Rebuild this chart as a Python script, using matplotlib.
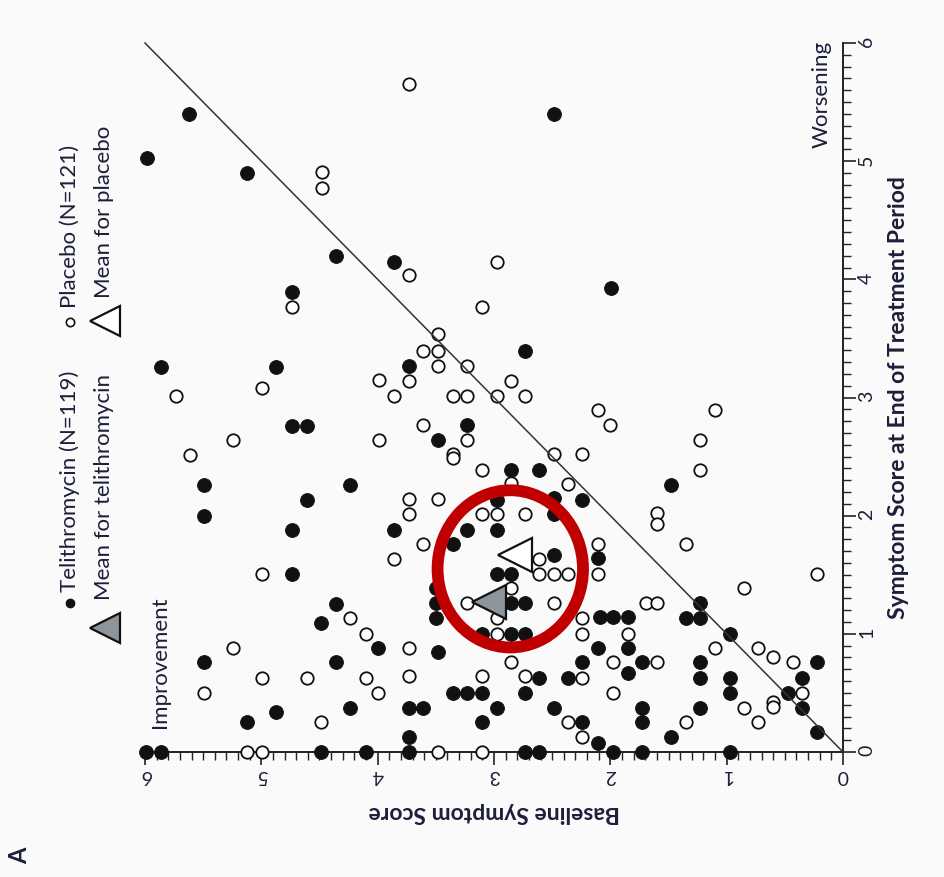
import matplotlib
matplotlib.use("Agg")
import matplotlib.pyplot as plt
from matplotlib.patches import Ellipse
from matplotlib.lines import Line2D
from matplotlib.ticker import MultipleLocator

plt.rcParams['font.family'] = ['Lato', 'DejaVu Sans']

# telithromycin arm: baseline score, score at end of treatment
teli_base = [5.62, 5.98, 5.12, 4.36, 2.48, 3.86, 4.74, 5.86, 4.87, 4.74,
             4.61, 5.49, 4.24, 4.61, 5.49, 2.73, 3.73, 3.23, 3.48, 2.85,
             2.61, 2.48, 2.24, 2.97, 1.99, 1.48, 4.74, 4.74, 4.36, 4.49,
             4.00, 5.49, 4.36, 4.24, 4.87, 5.12, 5.99, 5.86, 4.49, 4.10,
             2.48, 3.86, 3.23, 2.97, 3.35, 2.11, 2.48, 2.97, 2.85, 3.50,
             3.50, 3.50, 2.85, 2.73, 3.10, 2.85, 2.73, 2.09, 1.98, 1.85,
             3.48, 2.11, 2.24, 2.61, 2.36, 3.35, 3.23, 3.10, 2.73, 3.73,
             3.61, 2.97, 2.48, 3.10, 2.24, 2.11, 3.73, 3.73, 2.73, 2.61,
             1.23, 1.35, 1.23, 0.97, 1.85, 0.22, 1.73, 1.85, 1.23, 1.23,
             0.97, 0.97, 0.35, 0.47, 1.73, 1.73, 1.23, 0.35, 0.22, 1.48,
             1.98, 1.73, 0.97]
teli_end = [5.40, 5.03, 4.90, 4.20, 5.40, 4.15, 3.89, 3.26, 3.26, 2.76,
            2.76, 2.26, 2.26, 2.13, 2.00, 3.39, 3.27, 2.77, 2.64, 2.39,
            2.39, 2.15, 2.13, 2.13, 3.93, 2.26, 1.88, 1.51, 1.25, 1.09,
            0.88, 0.76, 0.76, 0.37, 0.34, 0.25, 0.00, 0.00, 0.00, 0.00,
            2.01, 1.88, 1.88, 1.88, 1.76, 1.64, 1.67, 1.51, 1.51, 1.39,
            1.26, 1.13, 1.26, 1.26, 1.00, 1.00, 1.00, 1.14, 1.14, 1.14,
            0.85, 0.88, 0.76, 0.63, 0.63, 0.50, 0.50, 0.50, 0.50, 0.37,
            0.37, 0.37, 0.37, 0.25, 0.25, 0.08, 0.13, 0.00, 0.00, 0.00,
            1.26, 1.13, 1.13, 1.00, 0.88, 0.76, 0.76, 0.67, 0.76, 0.63,
            0.63, 0.50, 0.63, 0.50, 0.37, 0.25, 0.37, 0.37, 0.17, 0.13,
            0.00, 0.00, 0.00]

# placebo arm
plac_base = [4.48, 4.48, 3.73, 3.73, 2.97, 4.74, 5.73, 4.99, 5.24, 5.61,
             3.99, 3.99, 3.10, 3.48, 3.61, 3.48, 3.48, 3.23, 3.73, 2.85,
             3.86, 3.35, 3.23, 2.97, 2.73, 2.11, 2.00, 3.61, 3.23, 3.35,
             3.35, 2.48, 2.24, 3.10, 2.85, 2.36, 3.73, 3.48, 1.10, 1.23,
             1.23, 1.60, 1.60, 4.99, 4.24, 4.10, 5.24, 5.49, 4.99, 4.61,
             4.10, 4.00, 4.49, 5.12, 4.99, 3.73, 3.10, 2.97, 2.73, 3.61,
             2.11, 2.11, 3.86, 2.61, 2.61, 2.48, 2.36, 2.85, 3.23, 2.48,
             2.97, 2.97, 2.24, 2.24, 3.73, 2.85, 3.73, 3.10, 2.73, 2.24,
             1.98, 2.36, 2.24, 3.48, 3.10, 1.35, 0.22, 0.85, 1.69, 1.60,
             1.85, 0.73, 1.10, 0.60, 0.43, 1.98, 1.60, 0.35, 0.85, 0.60,
             0.60, 1.35, 0.73]
plac_end = [4.91, 4.77, 5.65, 4.04, 4.15, 3.77, 3.01, 3.08, 2.64, 2.51,
            3.15, 2.64, 3.77, 3.54, 3.39, 3.39, 3.27, 3.27, 3.14, 3.14,
            3.01, 3.01, 3.01, 3.01, 3.01, 2.89, 2.77, 2.77, 2.64, 2.52,
            2.49, 2.52, 2.52, 2.39, 2.28, 2.27, 2.14, 2.14, 2.89, 2.64,
            2.39, 2.02, 1.93, 1.51, 1.13, 1.00, 0.88, 0.50, 0.63, 0.63,
            0.63, 0.50, 0.25, 0.00, 0.00, 2.01, 2.01, 2.01, 2.01, 1.76,
            1.76, 1.51, 1.63, 1.63, 1.51, 1.51, 1.51, 1.39, 1.26, 1.26,
            1.13, 1.00, 1.13, 1.00, 0.88, 0.76, 0.64, 0.64, 0.64, 0.63,
            0.50, 0.25, 0.13, 0.00, 0.00, 1.76, 1.51, 1.39, 1.26, 1.26,
            1.00, 0.88, 0.88, 0.80, 0.76, 0.76, 0.76, 0.50, 0.37, 0.42,
            0.38, 0.25, 0.25]

# group means (baseline, end of treatment)
teli_mean = (3.04, 1.27)
plac_mean = (2.82, 1.67)

score_ticks = [0, 1, 2, 3, 4, 5, 6]
no_change = [0, 6]

ink = '#1c1f3a'
gray_fill = '#8d959c'
ring_red = '#c00000'

fig = plt.figure(figsize=(9.44, 8.77), dpi=100, facecolor='#fafafa')
ax = fig.add_axes([145 / 944, 1 - 752 / 877, 698 / 944, 709 / 877])
ax.set_facecolor('#fafafa')

ax.scatter(teli_base, teli_end, s=100, c='#111111', edgecolors='#111111',
           linewidths=0.6, zorder=3, clip_on=False)
ax.scatter(plac_base, plac_end, s=80, facecolors='white', edgecolors='#111111',
           linewidths=1.3, zorder=3, clip_on=False)
ax.plot(no_change, no_change, color='#333333', lw=1.1, zorder=4, clip_on=False)

ax.plot(*teli_mean, marker='<', ms=24, mfc=gray_fill, mec='#111111', mew=1.6,
        zorder=5, clip_on=False)
ax.plot(*plac_mean, marker='<', ms=24, mfc='white', mec='#111111', mew=1.6,
        zorder=5, clip_on=False)

# highlight around the two group means
ax.add_patch(Ellipse((2.86, 1.55), width=1.25, height=1.33, fill=False,
                     edgecolor=ring_red, lw=8.5, zorder=6, clip_on=False))

ax.set_xlim(6, 0)
ax.set_ylim(0, 6)
ax.set_xticks(score_ticks)
ax.set_yticks(score_ticks)
ax.xaxis.set_minor_locator(MultipleLocator(0.1))
ax.yaxis.set_minor_locator(MultipleLocator(0.1))
ax.yaxis.tick_right()
ax.yaxis.set_label_position('right')

for side in ['left', 'top']:
    ax.spines[side].set_visible(False)
for side in ['bottom', 'right']:
    ax.spines[side].set_linewidth(1.4)
    ax.spines[side].set_color('#222222')

ax.tick_params(axis='both', which='major', length=9, width=1.2,
               color='#222222', labelsize=14, labelcolor=ink, pad=2)
ax.tick_params(axis='both', which='minor', length=6, width=1.0, color='#222222')
ax.tick_params(axis='x', labelrotation=180)
ax.tick_params(axis='y', labelrotation=90)

ax.set_xlabel('Baseline Symptom Score', rotation=180, fontsize=16.5,
              fontweight='bold', color=ink, labelpad=13)
ax.set_ylabel('Symptom Score at End of Treatment Period', rotation=90,
              fontsize=16.5, fontweight='bold', color=ink, labelpad=9)


def fx(px):
    return px / 944


def fy(py):
    return 1 - py / 877


# legend, drawn sideways like the rest of the panel
fig.add_artist(Line2D([fx(70)], [fy(603)], marker='o', ms=6, color='#111111',
                      transform=fig.transFigure))
fig.add_artist(Line2D([fx(70)], [fy(322)], marker='o', ms=6, mfc='white',
                      mec='#111111', mew=1.2, transform=fig.transFigure))
fig.add_artist(Line2D([fx(105)], [fy(628)], marker='<', ms=22, mfc=gray_fill,
                      mec='#111111', mew=1.6, transform=fig.transFigure))
fig.add_artist(Line2D([fx(105)], [fy(321)], marker='<', ms=22, mfc='white',
                      mec='#111111', mew=1.6, transform=fig.transFigure))

legend_kw = dict(rotation=90, ha='center', va='bottom', fontsize=16, color=ink)
fig.text(fx(70), fy(592), 'Telithromycin (N=119)', **legend_kw)
fig.text(fx(104), fy(600), 'Mean for telithromycin', **legend_kw)
fig.text(fx(70), fy(308), 'Placebo (N=121)', **legend_kw)
fig.text(fx(104), fy(298), 'Mean for placebo', **legend_kw)

fig.text(fx(160), fy(728), 'Improvement', **legend_kw)
fig.text(fx(822), fy(148), 'Worsening', **legend_kw)
fig.text(fx(20), fy(856), 'A', rotation=90, ha='center', va='center',
         fontsize=17, fontweight='bold', color=ink)

fig.savefig('out.png', dpi=100, facecolor=fig.get_facecolor())
